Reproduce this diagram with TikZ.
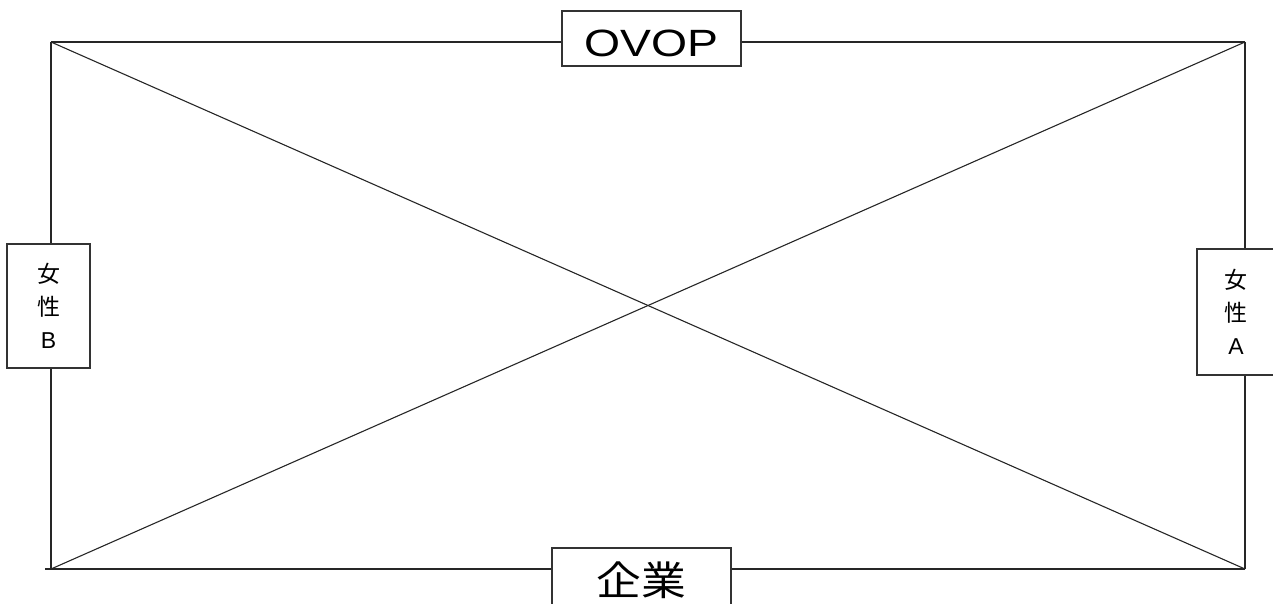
\documentclass[tikz,border=0pt]{standalone}
\usepackage{fontspec}
\setmainfont{Liberation Sans}
\newfontfamily\cjk{Noto Sans CJK JP}
\begin{document}
\begin{tikzpicture}[x=1pt,y=-1pt,
  edge/.style={draw=black!85, line width=1.1pt},
  lab/.style={draw=black!80, line width=1.3pt, fill=white, inner sep=0pt, align=center},
  side/.style={lab, font=\fontsize{23}{33}\selectfont},
]
\useasboundingbox (0,0) rectangle (1273,604);
\coordinate (TL) at (51,42);
\coordinate (TR) at (1245,42);
\coordinate (BL) at (51,569);
\coordinate (BR) at (1245,569);
\coordinate (BL0) at (45,569);
\draw[edge] (TL) -- (TR);
\draw[edge] (TR) -- (BR);
\draw[edge] (BR) -- (BL0);
\draw[edge] (BL) -- (TL);
\draw[edge] (TL) -- (BR);
\draw[edge] (BL) -- (TR);
\node[lab, minimum width=179pt, minimum height=55pt, text height=36pt, text depth=0pt, font=\fontsize{38}{40}\selectfont] (ovop) at (651.5,38.5)
  {\scalebox{1.22}[1]{OVOP}};
\node[side, minimum width=83pt, minimum height=124pt] (fb) at (48.5,306)
  {{\cjk 女}\\{\cjk 性}\\B};
\node[side, minimum width=78pt, minimum height=126pt] (fa) at (1236,312)
  {{\cjk 女}\\{\cjk 性}\\A};
\node[lab, minimum width=179pt, minimum height=64pt, font=\fontsize{40}{44}\selectfont\cjk] (kigyo) at (641.5,580)
  {\scalebox{1.12}[1]{企業}};
\end{tikzpicture}
\end{document}
